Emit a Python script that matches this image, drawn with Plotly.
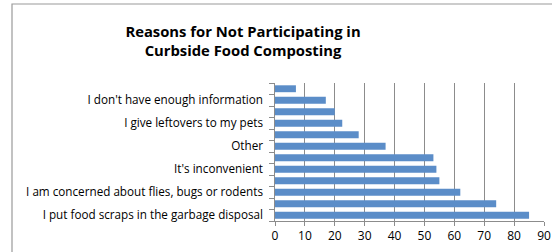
import plotly.graph_objects as go

# Categories from bottom to top (only every other one is labelled in the reference)
labels = [
    "I put food scraps in the garbage disposal", "",
    "I am concerned about flies, bugs or rodents", "",
    "It's inconvenient", "",
    "Other", "",
    "I give leftovers to my pets", "",
    "I don't have enough information", "",
]
values = [85, 74, 62, 55, 54, 53, 37, 28, 22.5, 20, 17, 7]
x_ticks = [0, 10, 20, 30, 40, 50, 60, 70, 80, 90]
title_text = "<b>Reasons for Not Participating in<br>Curbside Food Composting</b>"

positions = list(range(len(values)))
boundaries = [p - 0.5 for p in positions] + [len(values) - 0.5]

W, H = 552, 252
ml, mr, mt, mb = 275, 8, 83, 31
pw, ph = W - ml - mr, H - mt - mb

font = "Open Sans, Liberation Sans, Arial, sans-serif"

fig = go.Figure()
fig.add_trace(go.Bar(
    x=values, y=positions, orientation="h",
    marker=dict(color="#5b8dc8", line=dict(width=0)),
    width=0.6, hoverinfo="x",
))
# invisible trace to activate secondary y axis for labels
fig.add_trace(go.Scatter(x=[None], y=[None], yaxis="y2", showlegend=False))

fig.update_layout(
    width=W, height=H,
    margin=dict(l=ml, r=mr, t=mt, b=mb, autoexpand=False),
    paper_bgcolor="white", plot_bgcolor="white",
    showlegend=False,
    title=dict(text=title_text, x=243 / W, xanchor="center", y=1 - 37 / H, yanchor="middle",
               font=dict(family=font, size=14.8, color="#000000")),
    font=dict(family=font, size=11.7, color="#000000"),
    xaxis=dict(range=[0, 90], tickvals=x_ticks, showgrid=True, gridcolor="#8c8c8c", gridwidth=1,
               zeroline=False, showline=True, linecolor="#8c8c8c", linewidth=1,
               ticks="outside", ticklen=4, tickcolor="#8c8c8c", automargin=False,
               tickfont=dict(size=12, family=font), fixedrange=True),
    yaxis=dict(range=[-0.5, len(values) - 0.5], tickvals=boundaries, ticktext=[""] * len(boundaries),
               showgrid=False, zeroline=False, showline=True, linecolor="#8c8c8c", linewidth=1,
               ticks="outside", ticklen=5, tickcolor="#8c8c8c", automargin=False, fixedrange=True),
    yaxis2=dict(overlaying="y", side="left", range=[-0.5, len(values) - 0.5],
                tickvals=positions, ticktext=labels, ticks="", showgrid=False, zeroline=False,
                showline=False, ticklabelstandoff=11, tickfont=dict(size=11.7, family=font),
                automargin=False, fixedrange=True),
    shapes=[dict(type="rect", xref="paper", yref="paper",
                 x0=(12 - ml) / pw, x1=(W + 20 - ml) / pw,
                 y0=-(H + 20 - mt - ph) / ph, y1=(mt + ph - 4) / ph,
                 line=dict(color="#9a9a9a", width=1.2), fillcolor="rgba(0,0,0,0)", layer="below")],
)

fig.write_html("out.html", config={"displayModeBar": False},
               post_script="document.body.style.margin='0';")
